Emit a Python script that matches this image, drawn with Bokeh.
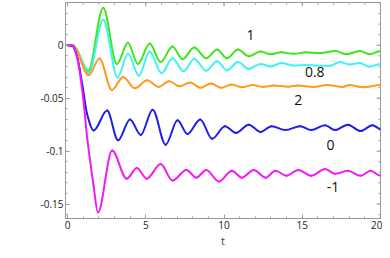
import numpy as np
from bokeh.plotting import figure
from bokeh.models import Range1d, FixedTicker, Label
from bokeh.embed import file_html
from bokeh.resources import INLINE

# ---- data (t, J) at turning points ----
t_1 = [0, 0.38, 1.33, 2.28, 3.15, 3.86, 4.49, 5.25, 5.95, 6.71, 7.34, 8.10, 8.86, 9.56, 10.19,
       10.89, 11.58, 12.34, 12.97, 13.67, 14.43, 15.25, 16.0, 17.15, 17.78, 18.67, 19.3, 20.0]
J_1 = [0, -0.0003, -0.0241, 0.0355, -0.0177, 0.0025, -0.0177, 0.0016, -0.0159, -0.0012, -0.0131,
       -0.0021, -0.0122, -0.0039, -0.0122, -0.0039, -0.0104, -0.0058, -0.0085, -0.0067, -0.0081,
       -0.0067, -0.0076, -0.0055, -0.0085, -0.0055, -0.0085, -0.0053]

t_08 = [0, 0.38, 1.36, 2.28, 3.2, 3.86, 4.56, 5.25, 6.01, 6.71, 7.41, 8.10, 8.86, 9.56, 10.19,
        10.89, 11.58, 12.34, 12.97, 13.67, 14.43, 15.25, 16.0, 16.77, 17.4, 18.04, 18.67, 19.3, 20.0]
J_08 = [0, -0.0003, -0.026, 0.0242, -0.0306, -0.0081, -0.0287, -0.0058, -0.0264, -0.0122, -0.0246,
        -0.0127, -0.0241, -0.0150, -0.0237, -0.0159, -0.0223, -0.0177, -0.0200, -0.0168, -0.0191,
        -0.0186, -0.0193, -0.0193, -0.0159, -0.0182, -0.0168, -0.0202, -0.0177]

t_2 = [0, 0.38, 1.35, 2.04, 2.83, 3.56, 4.30, 5.09, 5.82, 6.49, 7.15, 7.85, 8.48, 9.18, 9.81,
       10.5, 11.14, 11.84, 12.47, 13.16, 14.1, 14.75, 15.7, 16.6, 17.6, 18.0, 18.9, 20.0]
J_2 = [0, -0.0005, -0.0284, -0.0125, -0.0422, -0.0299, -0.0406, -0.0330, -0.0393, -0.0339, -0.0388,
       -0.0351, -0.0402, -0.0361, -0.0402, -0.0370, -0.0397, -0.0374, -0.0393, -0.0379, -0.0391,
       -0.0379, -0.0393, -0.0376, -0.0393, -0.0376, -0.0397, -0.0376]

t_0 = [0, 0.3, 0.6, 0.95, 1.25, 1.67, 2.53, 3.23, 3.99, 4.68, 5.44, 6.27, 7.03, 7.66, 8.48, 9.24,
       10.06, 10.76, 11.58, 12.34, 13.04, 13.92, 14.87, 15.57, 16.46, 17.09, 17.91, 18.73, 19.49, 20.0]
J_0 = [0, -0.0005, -0.010, -0.038, -0.065, -0.0804, -0.0617, -0.0897, -0.0700, -0.0847, -0.0608,
       -0.0939, -0.0709, -0.0838, -0.0700, -0.0883, -0.0764, -0.0828, -0.0750, -0.0819, -0.0764,
       -0.0801, -0.0764, -0.0801, -0.0755, -0.0801, -0.0750, -0.0810, -0.0755, -0.0792]

t_m1 = [0, 0.35, 0.65, 1.0, 1.25, 1.66, 1.94, 2.85, 3.78, 4.43, 5.06, 5.95, 6.71, 7.59, 8.23, 8.86,
        9.68, 10.5, 11.14, 11.9, 12.66, 13.29, 13.99, 14.75, 15.57, 16.46, 17.09, 17.91, 18.73, 19.37, 20.0]
J_m1 = [0, -0.0005, -0.014, -0.050, -0.0865, -0.132, -0.158, -0.0994, -0.126, -0.1159, -0.126,
        -0.1122, -0.1278, -0.1177, -0.1250, -0.1177, -0.1287, -0.1186, -0.1250, -0.1177, -0.1250,
        -0.1186, -0.1232, -0.1177, -0.1232, -0.1168, -0.1214, -0.1186, -0.1232, -0.1186, -0.1232]

curve_names = ["1", "0.8", "2", "0", "-1"]
curve_colors = ["#3de61a", "#40f2f2", "#ff9a1a", "#1f1fe6", "#f21af2"]
label_t = [11.7, 15.8, 14.75, 16.8, 16.96]
label_J = [0.0098, -0.025, -0.0517, -0.094, -0.134]

x_major = [0, 5, 10, 15, 20]
x_minor = list(range(0, 21))
y_major = [0, -0.05, -0.1, -0.15]
y_minor = [round(-0.16 + 0.01 * i, 2) for i in range(0, 21)]
y_major_text = {0: "0", -0.05: "-0.05", -0.1: "-0.1", -0.15: "-0.15"}

X0, X1 = -0.13, 20.0
Y0, Y1 = -0.1636, 0.0404


def smooth_segments(t, v):
    t = np.asarray(t, float)
    v = np.asarray(v, float)
    h = np.diff(t)
    d = np.diff(v) / h
    m = np.zeros_like(v)
    for i in range(1, len(v) - 1):
        if d[i - 1] * d[i] > 0:
            w1 = 2 * h[i] + h[i - 1]
            w2 = h[i] + 2 * h[i - 1]
            m[i] = (w1 + w2) / (w1 / d[i - 1] + w2 / d[i])
    return dict(x0=t[:-1], y0=v[:-1], x1=t[1:], y1=v[1:],
                cx0=t[:-1] + h / 3, cy0=v[:-1] + m[:-1] * h / 3,
                cx1=t[1:] - h / 3, cy1=v[1:] - m[1:] * h / 3)


FONT = "Open Sans"
AX = "#9a9a9a"

p = figure(width=382, height=250, output_backend="svg", toolbar_location=None,
           x_range=Range1d(X0, X1), y_range=Range1d(Y0, Y1),
           min_border_left=65, min_border_right=2, min_border_top=2, min_border_bottom=0)
p.outline_line_color = AX
p.outline_line_width = 1
p.xgrid.visible = False
p.ygrid.visible = False


def style_axis(ax):
    ax.axis_line_color = AX
    ax.major_tick_line_color = AX
    ax.minor_tick_line_color = AX
    ax.major_tick_in = 4
    ax.major_tick_out = 0
    ax.minor_tick_in = 2
    ax.minor_tick_out = 0
    ax.major_label_text_font = FONT
    ax.major_label_text_color = "#222222"
    ax.major_label_text_font_size = "10px"
    ax.major_label_standoff = 2


p.xaxis[0].ticker = FixedTicker(ticks=x_major, minor_ticks=x_minor)
p.yaxis[0].ticker = FixedTicker(ticks=y_major, minor_ticks=y_minor)
p.yaxis[0].major_label_overrides = y_major_text
style_axis(p.xaxis[0])
style_axis(p.yaxis[0])
p.xaxis[0].axis_label = "t"
p.xaxis[0].axis_label_text_font = FONT
p.xaxis[0].axis_label_text_font_style = "normal"
p.xaxis[0].axis_label_text_font_size = "11px"
p.xaxis[0].axis_label_standoff = 1

# inward ticks on the top and right frame edges (half of each dash is clipped away)
p.scatter(x=x_major, y=[Y1] * len(x_major), marker="dash", angle=np.pi / 2, size=8,
          line_color=AX, line_width=1)
p.scatter(x=x_minor, y=[Y1] * len(x_minor), marker="dash", angle=np.pi / 2, size=4,
          line_color=AX, line_width=1)
p.scatter(x=[X1] * len(y_major), y=y_major, marker="dash", size=8, line_color=AX, line_width=1)
p.scatter(x=[X1] * len(y_minor), y=y_minor, marker="dash", size=4, line_color=AX, line_width=1)

series = [(t_1, J_1), (t_08, J_08), (t_2, J_2), (t_0, J_0), (t_m1, J_m1)]
for (tt, jj), col in zip(series, curve_colors):
    seg = smooth_segments(tt, jj)
    p.bezier(x0=seg["x0"], y0=seg["y0"], x1=seg["x1"], y1=seg["y1"],
             cx0=seg["cx0"], cy0=seg["cy0"], cx1=seg["cx1"], cy1=seg["cy1"],
             line_color=col, line_width=2, line_cap="round")

for name, lt, lj in zip(curve_names, label_t, label_J):
    p.add_layout(Label(x=lt, y=lj, text=name, text_font=FONT, text_font_size="14px",
                       text_color="#111111", text_align="center", text_baseline="middle"))

p.add_layout(Label(x=-3.32, y=-0.0655, text="J", text_font=FONT, text_font_size="11px",
                   text_color="#222222", text_align="left", text_baseline="middle"))
p.add_layout(Label(x=-2.94, y=-0.0695, text="-3-4", text_font=FONT, text_font_size="7px",
                   text_color="#222222", text_align="left", text_baseline="middle"))

open("out.html", "w").write(file_html(p, INLINE))
